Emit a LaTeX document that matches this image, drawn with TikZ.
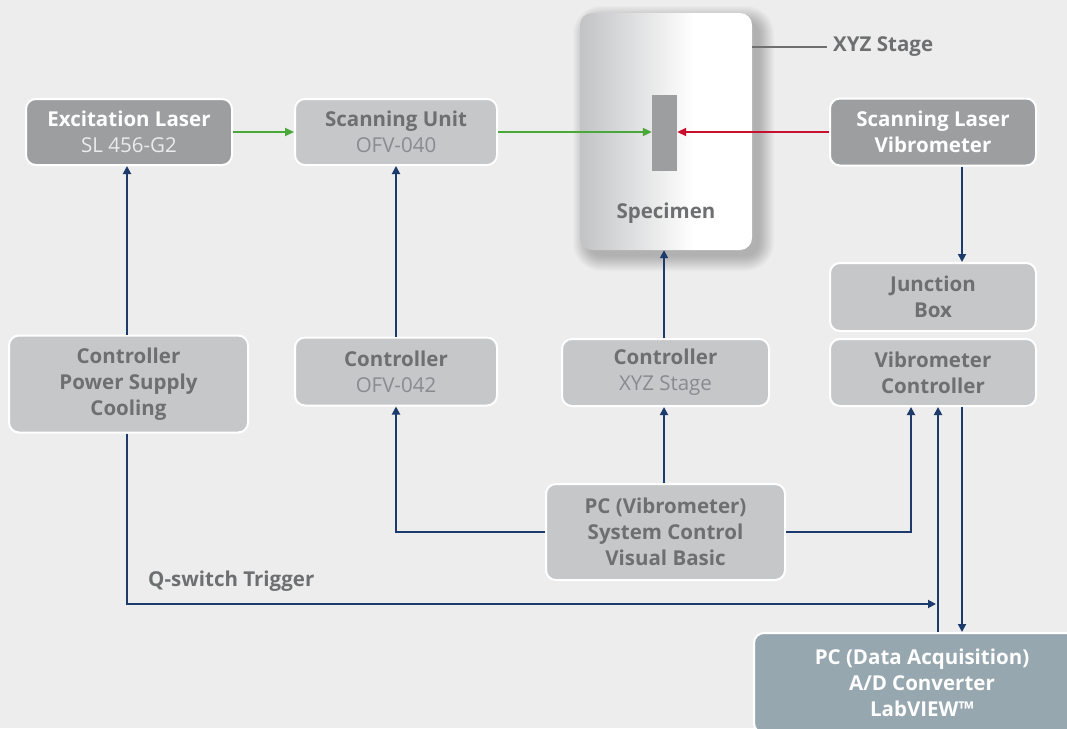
\documentclass[tikz,border=0pt]{standalone}
\usepackage{fontspec}
\setmainfont{Open Sans}
\usetikzlibrary{arrows.meta,calc}
\definecolor{bg}{HTML}{ECEDEC}
\definecolor{boxdark}{HTML}{9D9EA0}
\definecolor{boxlight}{HTML}{C6C7C9}
\definecolor{daqfill}{HTML}{97A7AF}
\definecolor{txtdark}{HTML}{6E6F71}
\definecolor{txtsub}{HTML}{8A8B8E}
\definecolor{navy}{HTML}{1D3A6C}
\definecolor{beamgreen}{HTML}{4AA83A}
\definecolor{beamred}{HTML}{C8102E}
\definecolor{stageL}{HTML}{C2C3C5}
\pgfdeclarehorizontalshading{stageshade}{100bp}{color(0bp)=(stageL); color(25bp)=(stageL); color(58bp)=(white); color(100bp)=(white)}
\newcommand{\boxfont}{\fontsize{20.5}{26}\selectfont}
\tikzset{
  box/.style={rectangle, rounded corners=10pt, draw=white, line width=2pt,
    inner sep=0pt, align=center, font=\boxfont},
  darkbox/.style={box, fill=boxdark, text=white},
  lightbox/.style={box, fill=boxlight, text=txtdark},
  conn/.style={draw=navy, line width=1.8pt, -{Triangle[length=8pt,width=8pt]}},
  beam/.style={line width=2pt, -{Triangle[length=9pt,width=8pt]}},
  plainlabel/.style={font=\boxfont\bfseries, text=txtdark, inner sep=0pt},
}
\begin{document}
\begin{tikzpicture}[x=1pt,y=-1pt]
\useasboundingbox (0,0) rectangle (1067,728);
\clip (0,0) rectangle (1067,728);
\fill[bg] (0,0) rectangle (1067,728);

% stage shadow, soft and cast to the lower right
\foreach \i in {1,...,16} {
  \fill[black, opacity=0.015, rounded corners={12pt+\i pt}]
    (580-\i+9, 13-\i+9) rectangle (752+\i+6, 250+\i+5);
}
% XYZ stage with specimen
\node[rectangle, rounded corners=12pt, minimum width=172pt, minimum height=237pt,
  inner sep=0pt, shading=stageshade] (stage) at (666,131.5) {};
\node[plainlabel] (speclabel) at (666,213) {Specimen};
\node[rectangle, fill=boxdark, minimum width=25pt, minimum height=76pt, inner sep=0pt] (sample) at (664.5,133) {};
\coordinate (stagetick) at (827,47);
\draw[txtdark, line width=1.8pt] (stage.east |- stagetick) -- (stagetick);
\node[plainlabel, anchor=west] (stagelabel) at (833,47) {XYZ Stage};

% boxes
\node[darkbox, minimum width=206pt, minimum height=66pt] (exc) at (129,132)
  {\textbf{Excitation Laser}\\{\color{white!92!black}SL 456-G2}};
\node[lightbox, minimum width=202pt, minimum height=66pt] (scan) at (396,132)
  {\textbf{Scanning Unit}\\{\color{txtsub}OFV-040}};
\node[darkbox, minimum width=206pt, minimum height=67pt] (slv) at (933,132)
  {\textbf{Scanning Laser}\\\textbf{Vibrometer}};
\node[lightbox, minimum width=206pt, minimum height=68pt] (jbox) at (933,297)
  {\textbf{Junction}\\\textbf{Box}};
\node[lightbox, minimum width=206pt, minimum height=67pt] (vibc) at (933,372.5)
  {\textbf{Vibrometer}\\\textbf{Controller}};
\node[lightbox, minimum width=207pt, minimum height=67pt] (cxyz) at (665.5,372.5)
  {\textbf{Controller}\\{\color{txtsub}XYZ Stage}};
\node[lightbox, minimum width=202pt, minimum height=68pt] (cofv) at (396,371.5)
  {\textbf{Controller}\\{\color{txtsub}OFV-042}};
\node[lightbox, minimum width=239pt, minimum height=97pt] (cpsc) at (128.5,384)
  {\textbf{Controller}\\\textbf{Power Supply}\\\textbf{Cooling}};
\node[lightbox, minimum width=239pt, minimum height=96pt] (pcv) at (665.5,532)
  {\textbf{PC (Vibrometer)}\\\textbf{System Control}\\\textbf{Visual Basic}};
\node[box, fill=daqfill, text=white, minimum width=336pt, minimum height=100pt] (daq) at (922,683)
  {\textbf{PC (Data Acquisition)}\\\textbf{A/D Converter}\\\textbf{LabVIEW\texttrademark}};

% laser beams
\draw[beam, beamgreen] (exc.east) -- (scan.west);
\draw[beam, beamgreen] (scan.east) -- (sample.west |- scan.east);
\draw[beam, beamred] (slv.west) -- (sample.east |- slv.west);

% signal connections
\coordinate (excin) at ($(exc.south)+(-2,0)$);
\draw[conn] (cpsc.north -| excin) -- (excin);
\draw[conn] (cofv.north) -- (scan.south);
\coordinate (stagein) at ($(stage.south)+(-2,0)$);
\draw[conn] (cxyz.north -| stagein) -- (stagein);
\coordinate (cxyzin) at ($(cxyz.south)+(-1.5,0)$);
\draw[conn] (pcv.north -| cxyzin) -- (cxyzin);
\draw[conn] (pcv.west) -| (cofv.south);
\coordinate (vibin) at ($(vibc.south)+(-22,0)$);
\draw[conn] (pcv.east) -| (vibin);
\coordinate (daqout) at ($(vibc.south)+(5,0)$);
\draw[conn] (daqout |- daq.north) -- (daqout);
\coordinate (vibout) at ($(vibc.south)+(29,0)$);
\draw[conn] (vibout) -- (vibout |- daq.north);
\coordinate (slvout) at ($(slv.south)+(29,0)$);
\draw[conn] (slvout) -- (slvout |- jbox.north);
\coordinate (qend) at (936,604);
\draw[conn] (cpsc.south -| excin) |- (qend);
\node[plainlabel, anchor=south west] (qlabel) at (148,592) {Q-switch Trigger};
\end{tikzpicture}
\end{document}
